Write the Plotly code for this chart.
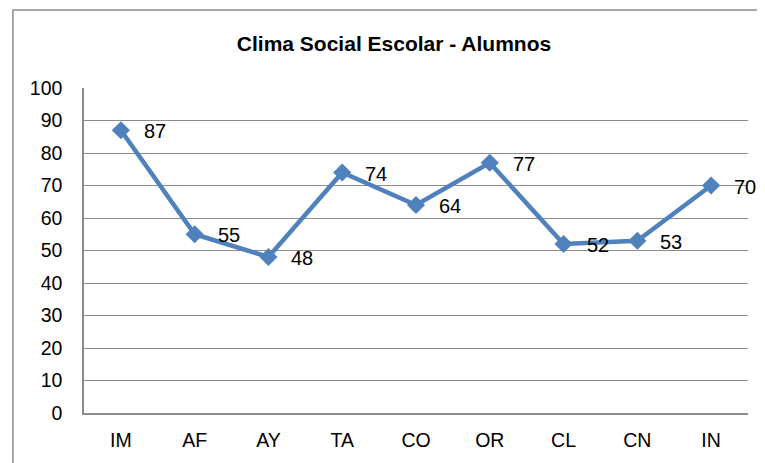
import plotly.graph_objects as go

categorias = ["IM", "AF", "AY", "TA", "CO", "OR", "CL", "CN", "IN"]
valores = [87, 55, 48, 74, 64, 77, 52, 53, 70]
ticks_y = [0, 10, 20, 30, 40, 50, 60, 70, 80, 90, 100]

azul = "#4F81BD"
gris = "#8C8C8C"
fuente = "Liberation Sans, Arial, sans-serif"

fig = go.Figure()
fig.add_trace(go.Scatter(
    x=categorias, y=valores, mode="lines+markers",
    line=dict(color=azul, width=4.5),
    marker=dict(symbol="diamond", size=14, color=azul),
    hoverinfo="skip", showlegend=False,
))

# etiquetas de datos a la derecha de cada punto
for c, v in zip(categorias, valores):
    fig.add_annotation(x=c, y=v, text=str(v), showarrow=False,
                       xanchor="left", yanchor="middle", xshift=22, yshift=-1,
                       borderpad=0,
                       font=dict(size=20, color="black", family=fuente))

# borde exterior del grafico
fig.add_shape(type="rect", xref="paper", yref="paper",
              x0=-0.107, x1=1.05, y0=-0.2, y1=1.24,
              line=dict(color=gris, width=1.5), layer="below")

# la pagina tiene 8px de margen en el body, por eso 757x455
fig.update_layout(
    width=757, height=455,
    margin=dict(l=76, r=17, t=80, b=50),
    paper_bgcolor="white", plot_bgcolor="white",
    font=dict(family=fuente, size=19, color="black"),
    title=dict(text="<b>Clima Social Escolar - Alumnos</b>",
               x=386 / 757, xanchor="center", y=1 - 36 / 455, yanchor="middle",
               font=dict(size=21, color="black", family=fuente)),
)
fig.update_xaxes(type="category", range=[-0.5, len(categorias) - 0.5],
                 showgrid=False, showline=True,
                 linecolor=gris, linewidth=1.5, ticks="",
                 ticklabelstandoff=9, tickfont=dict(size=19.5))
fig.update_yaxes(range=[0, 100], tickvals=ticks_y, showgrid=True,
                 gridcolor=gris, gridwidth=1.2, showline=True,
                 linecolor=gris, linewidth=1.5, ticks="",
                 ticklabelstandoff=16, zeroline=False,
                 tickfont=dict(size=19.5))

fig.write_html("out.html")
